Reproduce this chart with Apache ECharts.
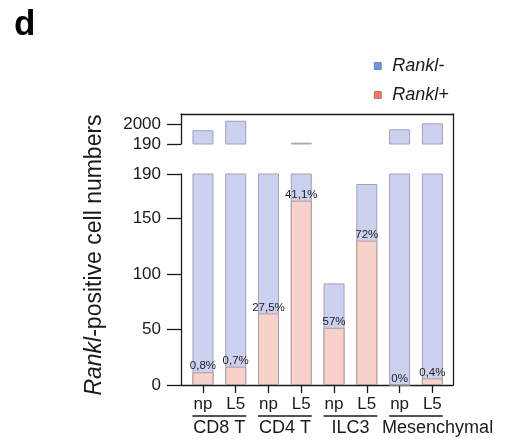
<!DOCTYPE html>
<html>
<head>
<meta charset="utf-8">
<script src="https://cdn.jsdelivr.net/npm/echarts@6/dist/echarts.min.js"></script>
<style>
  html, body { margin: 0; padding: 0; background: #fff; }
  #chart { width: 509px; height: 439px; }
</style>
</head>
<body>
<div id="chart"></div>
<script>
// bar order: np / L5 for each cell type
var subLabels = ['np', 'L5', 'np', 'L5', 'np', 'L5', 'np', 'L5'];
var groupNames = ['CD8 T', 'CD4 T', 'ILC3', 'Mesenchymal'];
var groupSpans = [[0, 1], [2, 3], [4, 5], [6, 7]];
var ranklPos = [11.5, 16.5, 64.5, 166, 51.5, 130, 0, 6];
var ranklNeg = [1468, 2354, 136, 144, 40, 51, 1565, 2124];
var pctLabels = ['0,8%', '0,7%', '27,5%', '41,1%', '57%', '72%', '0%', '0,4%'];
var lowTicks = [0, 50, 100, 150, 190];
var highTicks = [190, 2000];

var FONT = 'Arial, "Liberation Sans", Helvetica, sans-serif';
var INK = '#1a1a1a';
var X_MIN = -0.67, X_MAX = 7.63;
var BAR_W = 21;

var chart = echarts.init(document.getElementById('chart'), null, { renderer: 'canvas' });

// Rankl- sits on top of Rankl+, so the lavender bar runs to the total
var totals = ranklPos.map(function (v, i) { return v + ranklNeg[i]; });

function pairs(arr) {
  return arr.map(function (v, i) { return [i, v]; });
}

var negStyle = { color: '#ccd1f0', borderColor: '#9fa1b5', borderWidth: 1 };
var posStyle = { color: '#f7d1ca', borderColor: '#b09c9c', borderWidth: 1 };

function barSeries(name, data, style, idx, label) {
  return {
    name: name,
    type: 'bar',
    xAxisIndex: idx,
    yAxisIndex: idx,
    barWidth: BAR_W,
    barGap: '-100%',
    clip: true,
    data: pairs(data),
    itemStyle: style,
    label: label || { show: false },
    emphasis: { disabled: true }
  };
}

var tickText = function (v) { return String(v); };

var option = {
  animation: false,
  title: {
    text: 'd',
    left: 14,
    top: 8,
    padding: 0,
    textStyle: { fontSize: 35, fontWeight: 'bold', color: '#000', fontFamily: FONT }
  },
  legend: {
    orient: 'vertical',
    left: 369,
    top: 52,
    itemWidth: 7,
    itemHeight: 7,
    itemGap: 11,
    icon: 'rect',
    selectedMode: false,
    textStyle: { fontSize: 18, fontStyle: 'italic', color: INK, fontFamily: FONT, lineHeight: 18, padding: [0, 0, 0, 6] },
    data: [
      { name: 'Rankl-', itemStyle: { color: '#7393e4', borderColor: '#4a5f9e', borderWidth: 0.6 } },
      { name: 'Rankl+', itemStyle: { color: '#e8796b', borderColor: '#9a4a40', borderWidth: 0.6 } }
    ]
  },
  graphic: [{
    type: 'text',
    x: 95,
    y: 255,
    rotation: Math.PI / 2,
    style: {
      text: '{i|Rankl}-positive cell numbers',
      align: 'center',
      verticalAlign: 'middle',
      fontSize: 23,
      fontFamily: FONT,
      fill: INK,
      rich: { i: { fontStyle: 'italic', fontSize: 23, fontFamily: FONT, fill: INK } }
    }
  }],
  grid: [
    { left: 181, top: 114, width: 272, height: 30 },
    { left: 181, top: 174, width: 272, height: 211 },
    { left: 181, top: 114, width: 272, height: 271 }
  ],
  xAxis: [
    {
      gridIndex: 0, type: 'value', min: X_MIN, max: X_MAX, position: 'top',
      axisLine: { show: true, onZero: false, lineStyle: { color: INK, width: 1.3 } },
      axisTick: { show: false }, axisLabel: { show: false }, splitLine: { show: false }
    },
    {
      gridIndex: 1, type: 'value', min: X_MIN, max: X_MAX,
      axisLine: { show: true, onZero: false, lineStyle: { color: INK, width: 1.3 } },
      axisTick: { show: true, length: 8, customValues: [0, 1, 2, 3, 4, 5, 6, 7], lineStyle: { color: INK, width: 1.3 } },
      axisLabel: {
        show: true, margin: 11, fontSize: 17, color: INK, fontFamily: FONT,
        customValues: [0, 1, 2, 3, 4, 5, 6, 7],
        formatter: function (v) { return subLabels[Math.round(v)]; }
      },
      splitLine: { show: false }
    },
    { gridIndex: 2, type: 'value', min: 0, max: 1, show: false }
  ],
  yAxis: [
    {
      gridIndex: 0, type: 'value', min: 190, max: 3000,
      axisLine: { show: true, onZero: false, lineStyle: { color: INK, width: 1.3 } },
      axisTick: { show: true, length: 14, customValues: highTicks, lineStyle: { color: INK, width: 1.3 } },
      axisLabel: { show: true, margin: 20, fontSize: 17, color: INK, fontFamily: FONT, customValues: highTicks, formatter: tickText },
      splitLine: { show: false }
    },
    {
      gridIndex: 1, type: 'value', min: 0, max: 190,
      axisLine: { show: true, onZero: false, lineStyle: { color: INK, width: 1.3 } },
      axisTick: { show: true, length: 14, customValues: lowTicks, lineStyle: { color: INK, width: 1.3 } },
      axisLabel: { show: true, margin: 20, fontSize: 17, color: INK, fontFamily: FONT, customValues: lowTicks, formatter: tickText },
      splitLine: { show: false }
    },
    {
      gridIndex: 2, type: 'value', min: 0, max: 1, position: 'right',
      axisLine: { show: true, onZero: false, lineStyle: { color: INK, width: 1.3 } },
      axisTick: { show: false }, axisLabel: { show: false }, splitLine: { show: false }
    }
  ],
  series: [
    barSeries('Rankl-', totals, negStyle, 0),
    barSeries('Rankl+', ranklPos, posStyle, 0),
    barSeries('Rankl-', totals, negStyle, 1),
    barSeries('Rankl+', ranklPos, posStyle, 1, {
      show: true,
      position: 'top',
      distance: 0,
      fontSize: 11.5,
      color: '#222',
      fontFamily: FONT,
      formatter: function (p) { return pctLabels[p.dataIndex]; }
    }),
    {
      // group underline + cell type name below the np/L5 labels
      type: 'custom',
      xAxisIndex: 1,
      yAxisIndex: 1,
      silent: true,
      data: groupSpans.map(function (s) { return [s[0], s[1], 0]; }),
      encode: { x: [0, 1], y: 2 },
      renderItem: function (params, api) {
        var a = api.coord([api.value(0), 0]);
        var b = api.coord([api.value(1), 0]);
        var half = BAR_W / 2;
        var last = params.dataIndex === groupNames.length - 1;
        return {
          type: 'group',
          children: [
            {
              type: 'line',
              shape: { x1: a[0] - half, y1: a[1] + 31, x2: b[0] + half, y2: b[1] + 31 },
              style: { stroke: INK, lineWidth: 1.3 }
            },
            {
              type: 'text',
              // the long last name hangs off to the right in the original
              x: last ? a[0] - half - 7 : (a[0] + b[0]) / 2,
              y: a[1] + 43,
              style: {
                text: groupNames[params.dataIndex],
                align: last ? 'left' : 'center',
                verticalAlign: 'middle',
                fontSize: 18,
                fontFamily: FONT,
                fill: INK
              }
            }
          ]
        };
      }
    }
  ]
};

chart.setOption(option);
</script>
</body>
</html>
